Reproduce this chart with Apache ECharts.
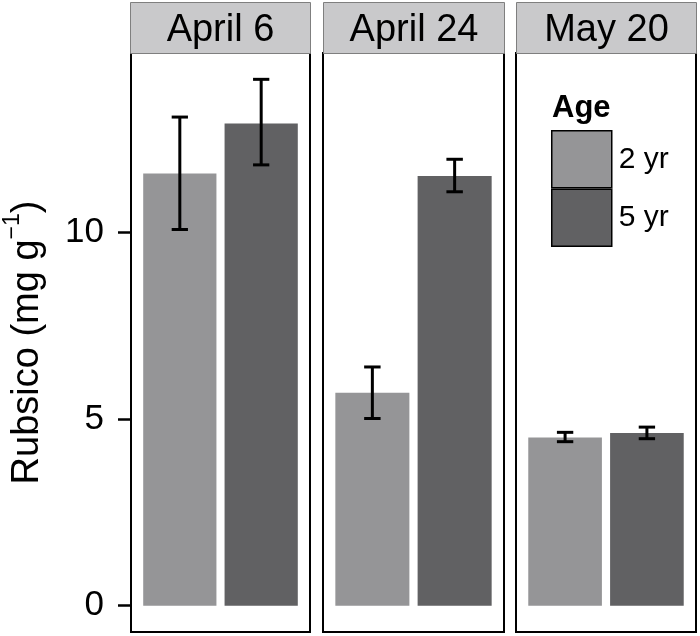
<!DOCTYPE html>
<html>
<head>
<meta charset="utf-8">
<script src="https://cdn.jsdelivr.net/npm/echarts@6/dist/echarts.min.js"></script>
<style>
  html, body { margin: 0; padding: 0; background: #fff; }
  #main { width: 700px; height: 636px; }
</style>
</head>
<body>
<div id="main"></div>
<script>
// data
const panels = ['April 6', 'April 24', 'May 20'];
const ages = ['2 yr', '5 yr'];
const mean2 = [11.57, 5.70, 4.50];
const mean5 = [12.91, 11.50, 4.62];
const lo2 = [10.07, 5.01, 4.39];
const hi2 = [13.08, 6.39, 4.64];
const lo5 = [11.80, 11.08, 4.47];
const hi5 = [14.09, 11.95, 4.78];
const yTicks = [0, 5, 10];

const font = 'Liberation Sans';
const colors = ['#959597', '#616163'];
const yMin = -0.705, yMax = 14.795;

// panel layout (px)
const panelLeft = [130, 323, 516];
const panelWidth = [180, 181, 180];
const panelTop = 53, panelBottom = 4;

const chart = echarts.init(document.getElementById('main'));

function barItem(params, api) {
  const x = api.value(0), v = api.value(1);
  const p0 = api.coord([x - 0.45, v]);
  const p1 = api.coord([x + 0.45, 0]);
  return {
    type: 'rect',
    shape: { x: p0[0], y: p0[1], width: p1[0] - p0[0], height: p1[1] - p0[1] },
    style: api.style()
  };
}

function errItem(params, api) {
  const x = api.value(0);
  const lo = api.coord([x, api.value(1)]);
  const hi = api.coord([x, api.value(2)]);
  const l = api.coord([x - 0.1, 0])[0], r = api.coord([x + 0.1, 0])[0];
  const st = { stroke: '#000', lineWidth: 3 };
  return {
    type: 'group',
    children: [
      { type: 'line', shape: { x1: lo[0], y1: lo[1], x2: hi[0], y2: hi[1] }, style: st },
      { type: 'line', shape: { x1: l, y1: lo[1], x2: r, y2: lo[1] }, style: st },
      { type: 'line', shape: { x1: l, y1: hi[1], x2: r, y2: hi[1] }, style: st }
    ]
  };
}

const grids = [], xAxes = [], yAxes = [], series = [], graphics = [];
panels.forEach(function (name, i) {
  grids.push({
    left: panelLeft[i], width: panelWidth[i], top: panelTop, bottom: panelBottom,
    show: true, borderColor: '#000', borderWidth: 2, backgroundColor: '#fff', z: 0
  });
  xAxes.push({
    type: 'value', gridIndex: i, min: 0.4, max: 2.6,
    axisLine: { show: false }, axisTick: { show: false },
    axisLabel: { show: false }, splitLine: { show: false }
  });
  yAxes.push({
    type: 'value', gridIndex: i, min: yMin, max: yMax,
    splitLine: { show: false },
    axisLine: { show: false },
    axisTick: { show: i === 0, length: 13, lineStyle: { color: '#000', width: 2.5 }, customValues: yTicks },
    axisLabel: { show: i === 0, margin: 27, fontSize: 35, fontFamily: font, color: '#000', customValues: yTicks },
    name: i === 0 ? '{a|Rubsico (mg g}{s|\u22121}{a|)}' : '',
    nameLocation: 'middle',
    nameGap: 84,
    nameRotate: 90,
    nameTextStyle: {
      rich: {
        a: { fontSize: 38, fontFamily: font, color: '#000', lineHeight: 46, verticalAlign: 'bottom' },
        s: { fontSize: 23, fontFamily: font, color: '#000', lineHeight: 46, verticalAlign: 'top' }
      }
    }
  });
  series.push({
    name: ages[0], type: 'custom', xAxisIndex: i, yAxisIndex: i,
    itemStyle: { color: colors[0] }, renderItem: barItem,
    data: [[1, mean2[i]]]
  });
  series.push({
    name: ages[1], type: 'custom', xAxisIndex: i, yAxisIndex: i,
    itemStyle: { color: colors[1] }, renderItem: barItem,
    data: [[2, mean5[i]]]
  });
  series.push({
    type: 'custom', xAxisIndex: i, yAxisIndex: i, z: 5,
    renderItem: errItem,
    data: [[1, lo2[i], hi2[i]], [2, lo5[i], hi5[i]]]
  });
  graphics.push({
    type: 'group', left: panelLeft[i], top: 2,
    children: [
      { type: 'rect', shape: { x: 0, y: 0, width: panelWidth[i], height: 51 },
        style: { fill: '#c9c9cb', stroke: '#7f7f7f', lineWidth: 1 } },
      { type: 'text', x: panelWidth[i] / 2, y: 28,
        style: { text: name, fontSize: 38, fontFamily: font, fill: '#000', align: 'center', verticalAlign: 'middle' } }
    ]
  });
});

chart.setOption({
  animation: false,
  backgroundColor: '#fff',
  title: {
    text: 'Age', left: 552, top: 93, padding: 0,
    textStyle: { fontSize: 31, fontWeight: 'bold', fontFamily: font, color: '#000' }
  },
  legend: {
    data: ages, orient: 'vertical', left: 551, top: 130, padding: 0,
    itemWidth: 60, itemHeight: 57, itemGap: 0, icon: 'rect',
    itemStyle: { borderColor: '#000', borderWidth: 1.5 },
    textStyle: { fontSize: 30, fontFamily: font, color: '#000', padding: [0, 0, 0, 2] },
    selectedMode: false
  },
  grid: grids,
  xAxis: xAxes,
  yAxis: yAxes,
  series: series,
  graphic: graphics
});
</script>
</body>
</html>
